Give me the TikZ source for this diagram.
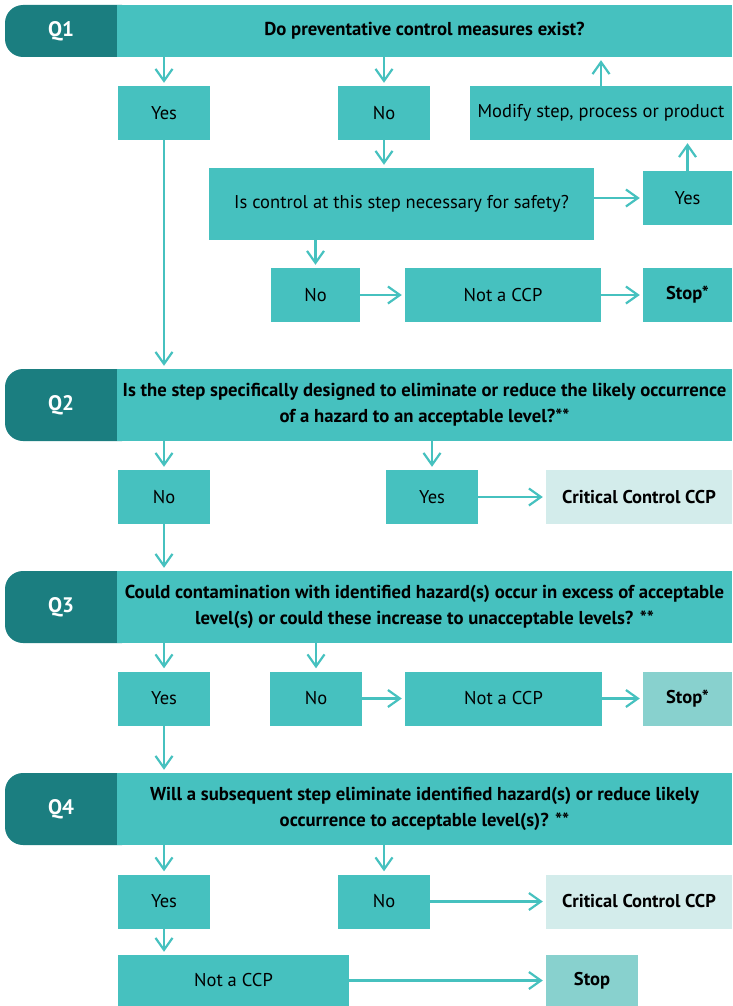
\documentclass[tikz,border=0pt]{standalone}
\usepackage{fontspec}
\setmainfont{PT Sans}
\usetikzlibrary{arrows.meta}
\definecolor{tealmain}{HTML}{46C1BF}
\definecolor{tealdark}{HTML}{1B7E80}
\definecolor{teallight}{HTML}{D3ECEB}
\definecolor{tealmid}{HTML}{88D1CE}
\begin{document}
\begin{tikzpicture}[x=1pt,y=-1pt,
  box/.style={fill=tealmain, inner sep=0pt, align=center, minimum height=54,
    font=\fontsize{18.5}{22}\selectfont},
  endbox/.style={box, font=\fontsize{18.5}{22}\selectfont\bfseries},
  head/.style={fill=tealmain, inner sep=0pt, align=center, minimum width=615,
    minimum height=72, font=\fontsize{18.7}{26}\selectfont\bfseries},
  tag/.style={text=white, font=\fontsize{21}{24}\selectfont\bfseries},
  arr/.style={draw=tealmain, line width=2.2pt, shorten >=3pt,
    -{Straight Barb[length=12pt,width=17pt,line width=2.2pt]}}]
\useasboundingbox (0,0) rectangle (732,1006);

% Q1
\fill[tealdark, rounded corners=18pt] (5,5) rectangle (140,57);
\node[head, minimum height=52] (q1) at (424.5,31) {Do preventative control measures exist?};
\node[tag] (t1) at (61,31) {Q1};

\node[box, minimum width=92] (yesA) at (164,113) {Yes};
\node[box, minimum width=92] (noA) at (384,113) {No};
\node[box, minimum width=262] (modify) at (601,113) {Modify step, process or product};
\node[box, minimum width=385, minimum height=72] (ctrl) at (401.5,204) {Is control at this step necessary for safety?};
\node[box, minimum width=89] (yesB) at (687.5,198) {Yes};
\node[box, minimum width=89] (noB) at (315.5,295) {No};
\node[box, minimum width=196] (notA) at (503,295) {Not a CCP};
\node[endbox, minimum width=89] (stopA) at (687.5,295) {Stop*};

\draw[arr] (q1.south -| yesA) -- (yesA.north);
\draw[arr] (q1.south -| noA) -- (noA.north);
\draw[arr] (modify.north) -- (modify.north |- q1.south);
\draw[arr] (noA.south) -- (noA.south |- ctrl.north);
\draw[arr] (ctrl.east |- yesB) -- (yesB.west);
\draw[arr] (yesB.north) -- (yesB.north |- modify.south);
\draw[arr] (ctrl.south -| noB) -- (noB.north);
\draw[arr] (noB) -- (notA);
\draw[arr] (notA) -- (stopA);

% Q2
\fill[tealdark, rounded corners=18pt] (5,369) rectangle (140,441);
\node[head] (q2) at (424.5,405) {Is the step specifically designed to eliminate or reduce the likely occurrence\\ of a hazard to an acceptable level?**};
\node[tag] (t2) at (61,405) {Q2};

\node[box, minimum width=92] (noC) at (164,497) {No};
\node[box, minimum width=92] (yesC) at (432,497) {Yes};
\node[endbox, fill=teallight, minimum width=186] (ccpA) at (639,497) {Critical Control CCP};

\draw[arr] (yesA.south) -- (yesA.south |- q2.north);
\draw[arr] (q2.south -| noC) -- (noC.north);
\draw[arr] (q2.south -| yesC) -- (yesC.north);
\draw[arr] (yesC) -- (ccpA);

% Q3
\fill[tealdark, rounded corners=18pt] (5,571) rectangle (140,643);
\node[head] (q3) at (424.5,607) {Could contamination with identified hazard(s) occur in excess of acceptable\\ level(s) or could these increase to unacceptable levels? **};
\node[tag] (t3) at (61,607) {Q3};

\node[box, minimum width=92] (yesD) at (164,698.5) {Yes};
\node[box, minimum width=92] (noD) at (316,698.5) {No};
\node[box, minimum width=197] (notB) at (503.5,698.5) {Not a CCP};
\node[endbox, fill=tealmid, minimum width=89] (stopB) at (687.5,698.5) {Stop*};

\draw[arr] (noC.south) -- (noC.south |- q3.north);
\draw[arr] (q3.south -| yesD) -- (yesD.north);
\draw[arr] (q3.south -| noD) -- (noD.north);
\draw[arr] (noD) -- (notB);
\draw[arr] (notB) -- (stopB);

% Q4
\fill[tealdark, rounded corners=18pt] (5,773) rectangle (140,845);
\node[head] (q4) at (424.5,809) {Will a subsequent step eliminate identified hazard(s) or reduce likely\\ occurrence to acceptable level(s)? **};
\node[tag] (t4) at (61,809) {Q4};

\node[box, minimum width=92] (yesE) at (164,901.5) {Yes};
\node[box, minimum width=92] (noE) at (384,901.5) {No};
\node[endbox, fill=teallight, minimum width=186] (ccpB) at (639,901.5) {Critical Control CCP};
\node[box, minimum width=231, minimum height=51] (notC) at (233.5,980.5) {Not a CCP};
\node[endbox, fill=tealmid, minimum width=92, minimum height=51] (stopC) at (592,980.5) {Stop};

\draw[arr] (yesD.south) -- (yesD.south |- q4.north);
\draw[arr] (q4.south -| yesE) -- (yesE.north);
\draw[arr] (q4.south -| noE) -- (noE.north);
\draw[arr] (noE) -- (ccpB);
\draw[arr] (yesE.south) -- (yesE.south |- notC.north);
\draw[arr] (notC) -- (stopC);
\end{tikzpicture}
\end{document}
